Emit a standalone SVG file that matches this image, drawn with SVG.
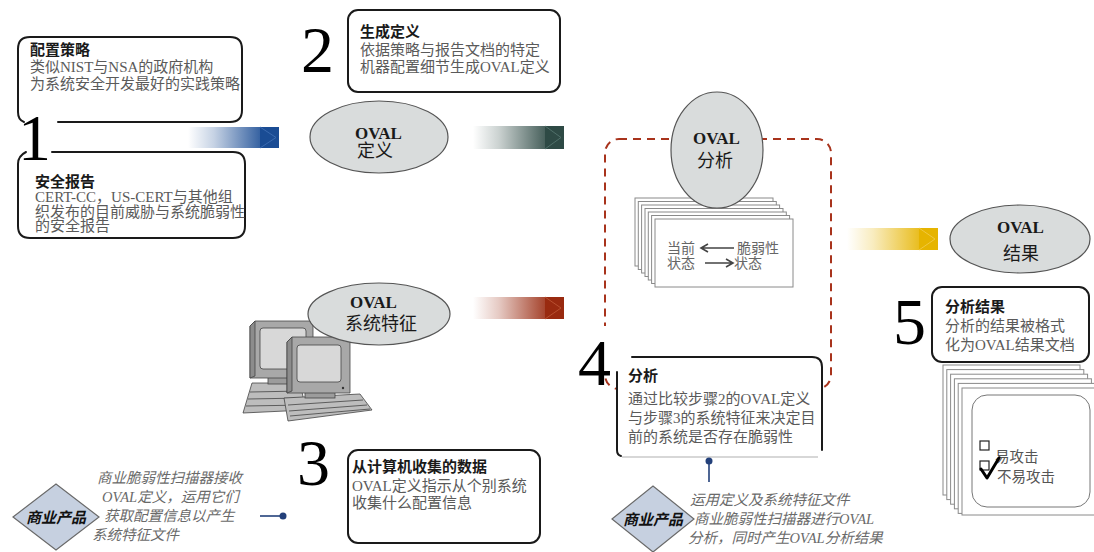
<svg xmlns="http://www.w3.org/2000/svg" width="1094" height="552" viewBox="0 0 1094 552">
  <style>
    .t { font-family: "Liberation Serif", "Noto Sans CJK SC", serif; }
    .title { font-size: 15px; font-weight: bold; fill: #1a1a1a; }
    .body { font-size: 15px; fill: #5a5a5a; }
    .digit { font-family: "Liberation Serif", serif; font-size: 66px; fill: #000; }
    .oval { fill: #d9dcdc; stroke: #555; stroke-width: 1.2; }
    .ovl { font-size: 17px; font-weight: bold; fill: #1a1a1a; }
    .ovc { font-size: 18px; fill: #1a1a1a; }
    .box { fill: #fff; stroke: #1a1a1a; stroke-width: 2; }
    .edge { fill: none; stroke: #1a1a1a; stroke-width: 2; stroke-linecap: round; }
    .page { fill: #fff; stroke: #8a8a8a; stroke-width: 1; }
    .diam { fill: #c6d0e0; stroke: #6a6a6a; stroke-width: 1.2; }
    .dtxt { font-size: 15px; font-weight: bold; font-style: italic; fill: #111; }
    .it { font-size: 14.5px; font-style: italic; fill: #6a6a6a; }
    .link { stroke: #23407a; stroke-width: 1.6; fill: none; }
    .dot { fill: #23407a; }
    .pc { stroke: #444; stroke-width: 0.8; }
  </style>
  <defs>
    <linearGradient id="gBlue" x1="0" y1="0" x2="1" y2="0">
      <stop offset="0" stop-color="#1a4c94" stop-opacity="0"/>
      <stop offset="0.35" stop-color="#1a4c94" stop-opacity="0.25"/>
      <stop offset="1" stop-color="#1a4c94" stop-opacity="0.9"/>
    </linearGradient>
    <linearGradient id="lBlue" x1="0" y1="0" x2="1" y2="0">
      <stop offset="0" stop-color="#0f3370" stop-opacity="0.3"/>
      <stop offset="1" stop-color="#0f3370" stop-opacity="1"/>
    </linearGradient>
    <linearGradient id="gTeal" x1="0" y1="0" x2="1" y2="0">
      <stop offset="0" stop-color="#2e4a45" stop-opacity="0"/>
      <stop offset="0.35" stop-color="#2e4a45" stop-opacity="0.25"/>
      <stop offset="1" stop-color="#2e4a45" stop-opacity="0.9"/>
    </linearGradient>
    <linearGradient id="lTeal" x1="0" y1="0" x2="1" y2="0">
      <stop offset="0" stop-color="#1c302c" stop-opacity="0.3"/>
      <stop offset="1" stop-color="#1c302c" stop-opacity="1"/>
    </linearGradient>
    <linearGradient id="gRed" x1="0" y1="0" x2="1" y2="0">
      <stop offset="0" stop-color="#992a10" stop-opacity="0"/>
      <stop offset="0.35" stop-color="#992a10" stop-opacity="0.25"/>
      <stop offset="1" stop-color="#992a10" stop-opacity="0.9"/>
    </linearGradient>
    <linearGradient id="lRed" x1="0" y1="0" x2="1" y2="0">
      <stop offset="0" stop-color="#7a1e08" stop-opacity="0.3"/>
      <stop offset="1" stop-color="#7a1e08" stop-opacity="1"/>
    </linearGradient>
    <linearGradient id="gGold" x1="0" y1="0" x2="1" y2="0">
      <stop offset="0" stop-color="#e6b400" stop-opacity="0"/>
      <stop offset="0.35" stop-color="#e6b400" stop-opacity="0.25"/>
      <stop offset="1" stop-color="#e6b400" stop-opacity="0.9"/>
    </linearGradient>
    <linearGradient id="lGold" x1="0" y1="0" x2="1" y2="0">
      <stop offset="0" stop-color="#d9a800" stop-opacity="0.3"/>
      <stop offset="1" stop-color="#d9a800" stop-opacity="1"/>
    </linearGradient>
  </defs>

  <!-- analysis region (dashed frame) -->
  <g id="analysis-frame">
    <rect x="605" y="139" width="226" height="250" rx="14" fill="none" stroke="#a8331c" stroke-width="2" stroke-dasharray="8 6"/>
  </g>

  <!-- step 1: policy + security reports -->
  <g id="step1">
    <path class="edge" d="M24,122 Q18,120 18,112 L18,49 Q18,37 30,37 L230,37 Q242,37 242,49 L242,110 Q242,122 230,122 L58,122"/>
    <path class="edge" d="M52,152 L233,152 Q245,152 245,164 L245,226 Q245,238 233,238 L30,238 Q18,238 18,226 L18,164 Q18,156 26,152"/>
    <text class="digit" x="18" y="160">1</text>
    <text class="t title" x="30" y="55">配置策略</text>
    <text class="t body" x="30" y="72">类似NIST与NSA的政府机构</text>
    <text class="t body" x="30" y="89">为系统安全开发最好的实践策略</text>
    <text class="t title" x="35" y="187">安全报告</text>
    <text class="t body" x="35" y="202">CERT-CC，US-CERT与其他组</text>
    <text class="t body" x="35" y="217">织发布的目前威胁与系统脆弱性</text>
    <text class="t body" x="35" y="231">的安全报告</text>
  </g>

  <!-- step 2: generate definitions -->
  <g id="step2">
    <text class="digit" x="301" y="72">2</text>
    <rect class="box" x="348" y="10" width="212" height="82" rx="10"/>
    <text class="t title" x="360" y="37">生成定义</text>
    <text class="t body" x="360" y="55">依据策略与报告文档的特定</text>
    <text class="t body" x="360" y="72">机器配置细节生成OVAL定义</text>
  </g>

  <g id="oval-definitions">
    <ellipse class="oval" cx="379" cy="137" rx="69" ry="36"/>
    <text class="t ovl" x="355" y="139">OVAL</text>
    <text class="t ovc" x="357" y="157">定义</text>
  </g>

  <!-- step 3: system characteristics -->
  <g id="computers">
    <!-- rear keyboard -->
    <polygon class="pc" points="252,383 300,383 306,410 243,413" fill="#bdbdbd"/>
    <line class="pc" x1="250" y1="392" x2="302" y2="391"/>
    <line class="pc" x1="248" y1="399" x2="303" y2="398"/>
    <line class="pc" x1="246" y1="406" x2="305" y2="405"/>
    <!-- rear monitor -->
    <rect class="pc" x="268" y="374" width="28" height="10" fill="#9c9c9c"/>
    <path class="pc" d="M250,326 L255,321 L313,321 L313,378 L250,378 Z" fill="#a8a8a8"/>
    <path class="pc" d="M250,326 L255,321 L255,376 L250,378 Z" fill="#8c8c8c"/>
    <rect class="pc" x="260" y="328" width="46" height="41" rx="3" fill="#d8d8d8"/>
    <!-- front keyboard -->
    <polygon class="pc" points="284,398 360,394 372,410 288,421" fill="#bdbdbd"/>
    <line class="pc" x1="288" y1="405" x2="363" y2="400"/>
    <line class="pc" x1="289" y1="411" x2="367" y2="405"/>
    <line class="pc" x1="290" y1="416" x2="370" y2="409"/>
    <!-- front monitor -->
    <rect class="pc" x="305" y="389" width="30" height="9" fill="#9c9c9c"/>
    <path class="pc" d="M287,342 L292,337 L350,337 L350,393 L287,393 Z" fill="#a8a8a8"/>
    <path class="pc" d="M287,342 L292,337 L292,391 L287,393 Z" fill="#8c8c8c"/>
    <rect class="pc" x="297" y="345" width="44" height="37" rx="3" fill="#d8d8d8"/>
    <circle cx="343" cy="388" r="1.2" fill="#333"/>
  </g>

  <g id="oval-characteristics">
    <ellipse class="oval" cx="379" cy="314" rx="71" ry="31"/>
    <text class="t ovl" x="350" y="308">OVAL</text>
    <text class="t ovc" x="345" y="330">系统特征</text>
  </g>

  <g id="step3">
    <text class="digit" x="297" y="485">3</text>
    <rect class="box" x="348" y="450" width="192" height="93" rx="10"/>
    <text class="t title" x="352" y="472">从计算机收集的数据</text>
    <text class="t body" x="352" y="491" fill="#3a3a3a">OVAL定义指示从个别系统</text>
    <text class="t body" x="352" y="508" fill="#3a3a3a">收集什么配置信息</text>
  </g>

  <g id="product-collect">
    <polygon class="diam" points="13,517 56,484 99,517 56,550"/>
    <text class="t dtxt" x="56" y="523" text-anchor="middle">商业产品</text>
    <text class="t it" x="97" y="483">商业脆弱性扫描器接收</text>
    <text class="t it" x="102" y="502">OVAL定义，运用它们</text>
    <text class="t it" x="104" y="521">获取配置信息以产生</text>
    <text class="t it" x="92" y="540">系统特征文件</text>
  </g>

  <!-- step 4: analysis -->
  <g id="analysis-pages">
    <rect class="page" x="635" y="198" width="138" height="68"/>
    <rect class="page" x="638.3" y="201.5" width="138" height="68"/>
    <rect class="page" x="641.6" y="205" width="138" height="68"/>
    <rect class="page" x="645" y="208.5" width="138" height="68"/>
    <rect class="page" x="648.3" y="212" width="138" height="68"/>
    <rect class="page" x="651.6" y="215.5" width="138" height="68"/>
    <rect class="page" x="655" y="219" width="138" height="68"/>
    <text class="t" x="667" y="253" font-size="14" fill="#666">当前</text>
    <text class="t" x="667" y="268" font-size="14" fill="#666">状态</text>
    <text class="t" x="737" y="253" font-size="14" fill="#666">脆弱性</text>
    <text class="t" x="734" y="268" font-size="14" fill="#666">状态</text>
    <path d="M734,248 L702,248 M708,244 L701,248 L708,252" fill="none" stroke="#444" stroke-width="1.6"/>
    <path d="M705,263 L732,263 M726,259 L733,263 L726,267" fill="none" stroke="#444" stroke-width="1.6"/>
  </g>

  <g id="oval-analysis">
    <ellipse class="oval" cx="717" cy="150" rx="46" ry="58"/>
    <text class="t ovl" x="693" y="144">OVAL</text>
    <text class="t ovc" x="697" y="167">分析</text>
  </g>

  <g id="step4">
    <rect x="578" y="326" width="36" height="52" fill="#fff"/>
    <rect x="617" y="357" width="205" height="100" fill="#fff"/>
    <text class="digit" x="578" y="385">4</text>
    <path class="edge" d="M632,357 L812,357 Q822,357 822,367 L822,450"/>
    <path class="edge" d="M617,372 L617,450 Q617,455 621,456"/>
    <line x1="622" y1="457" x2="818" y2="457" stroke="#b0b0b0" stroke-width="1.2"/>
    <text class="t title" x="628" y="381">分析</text>
    <text class="t body" x="628" y="404">通过比较步骤2的OVAL定义</text>
    <text class="t body" x="628" y="423">与步骤3的系统特征来决定目</text>
    <text class="t body" x="628" y="442">前的系统是否存在脆弱性</text>
  </g>

  <g id="product-analyze">
    <polygon class="diam" points="612,519 653,486 694,519 653,552"/>
    <text class="t dtxt" x="653" y="525" text-anchor="middle">商业产品</text>
    <text class="t it" x="690" y="505">运用定义及系统特征文件</text>
    <text class="t it" x="694" y="524">商业脆弱性扫描器进行OVAL</text>
    <text class="t it" x="688" y="543">分析，同时产生OVAL分析结果</text>
  </g>

  <!-- step 5: results -->
  <g id="oval-results">
    <ellipse class="oval" cx="1020" cy="239" rx="70" ry="34"/>
    <text class="t ovl" x="997" y="233">OVAL</text>
    <text class="t ovc" x="1003" y="260">结果</text>
  </g>

  <g id="step5">
    <text class="digit" x="893" y="344">5</text>
    <rect class="box" x="932" y="287" width="157" height="75" rx="10"/>
    <text class="t title" x="945" y="312" font-size="16">分析结果</text>
    <text class="t body" x="945" y="331" font-size="16">分析的结果被格式</text>
    <text class="t body" x="945" y="350" font-size="16">化为OVAL结果文档</text>
  </g>

  <g id="result-pages">
    <rect class="page" x="943" y="365" width="137" height="130" stroke="#333"/>
    <rect class="page" x="946.8" y="369.6" width="137" height="130" stroke="#333"/>
    <rect class="page" x="950.6" y="374.2" width="137" height="130" stroke="#333"/>
    <rect class="page" x="954.4" y="378.8" width="137" height="130" stroke="#333"/>
    <rect class="page" x="958.2" y="383.4" width="137" height="130" stroke="#333"/>
    <rect class="page" x="962" y="388" width="137" height="127" stroke="#333"/>
    <rect x="972" y="395" width="118" height="112" rx="15" fill="#fff" stroke="#777" stroke-width="1"/>
    <rect x="980" y="441" width="9" height="9" fill="#fff" stroke="#222" stroke-width="1.2"/>
    <rect x="980" y="461" width="9" height="9" fill="#fff" stroke="#222" stroke-width="1.2"/>
    <text class="t" x="995" y="462" font-size="14.5" fill="#555">易攻击</text>
    <text class="t" x="997" y="482" font-size="14.5" fill="#555">不易攻击</text>
    <path d="M981,469 L987,478 L999,458" fill="none" stroke="#000" stroke-width="3" stroke-linejoin="round" stroke-linecap="round"/>
  </g>

  <!-- flow arrows and links -->
  <g id="connectors">
    <g id="arrow-blue">
      <rect x="188" y="127" width="74" height="21" fill="url(#gBlue)"/>
      <line x1="188" y1="132" x2="262" y2="132" stroke="url(#lBlue)" stroke-width="1.3"/>
      <line x1="188" y1="141" x2="262" y2="141" stroke="url(#lBlue)" stroke-width="1.3"/>
      <rect x="260" y="127" width="19" height="21" fill="#1a4c94"/>
      <path d="M260,127 L276,137.5 L260,148" fill="none" stroke="#3a6ab0" stroke-width="1"/>
    </g>
    <g id="arrow-teal">
      <rect x="473" y="126" width="74" height="23" fill="url(#gTeal)"/>
      <line x1="473" y1="132" x2="547" y2="132" stroke="url(#lTeal)" stroke-width="1.3"/>
      <line x1="473" y1="141" x2="547" y2="141" stroke="url(#lTeal)" stroke-width="1.3"/>
      <rect x="545" y="126" width="19" height="23" fill="#2e4a45"/>
      <path d="M545,126 L561,137.5 L545,149" fill="none" stroke="#50706a" stroke-width="1"/>
    </g>
    <g id="arrow-red">
      <rect x="473" y="297" width="74" height="22" fill="url(#gRed)"/>
      <line x1="473" y1="303" x2="547" y2="303" stroke="url(#lRed)" stroke-width="1.3"/>
      <line x1="473" y1="312" x2="547" y2="312" stroke="url(#lRed)" stroke-width="1.3"/>
      <rect x="545" y="297" width="19" height="22" fill="#992a10"/>
      <path d="M545,297 L561,308 L545,319" fill="none" stroke="#b85030" stroke-width="1"/>
    </g>
    <g id="arrow-gold">
      <rect x="847" y="228" width="74" height="22" fill="url(#gGold)"/>
      <line x1="847" y1="235" x2="921" y2="235" stroke="url(#lGold)" stroke-width="1.3"/>
      <line x1="847" y1="243" x2="921" y2="243" stroke="url(#lGold)" stroke-width="1.3"/>
      <rect x="919" y="228" width="19" height="22" fill="#e6b400"/>
      <path d="M919,228 L935,239 L919,250" fill="none" stroke="#f0c840" stroke-width="1"/>
    </g>
    <line class="link" x1="260" y1="516" x2="282" y2="516"/>
    <circle class="dot" cx="283" cy="516" r="3.5"/>
    <line class="link" x1="709" y1="461" x2="709" y2="482"/>
    <circle class="dot" cx="709" cy="461" r="3.5"/>
  </g>
</svg>
